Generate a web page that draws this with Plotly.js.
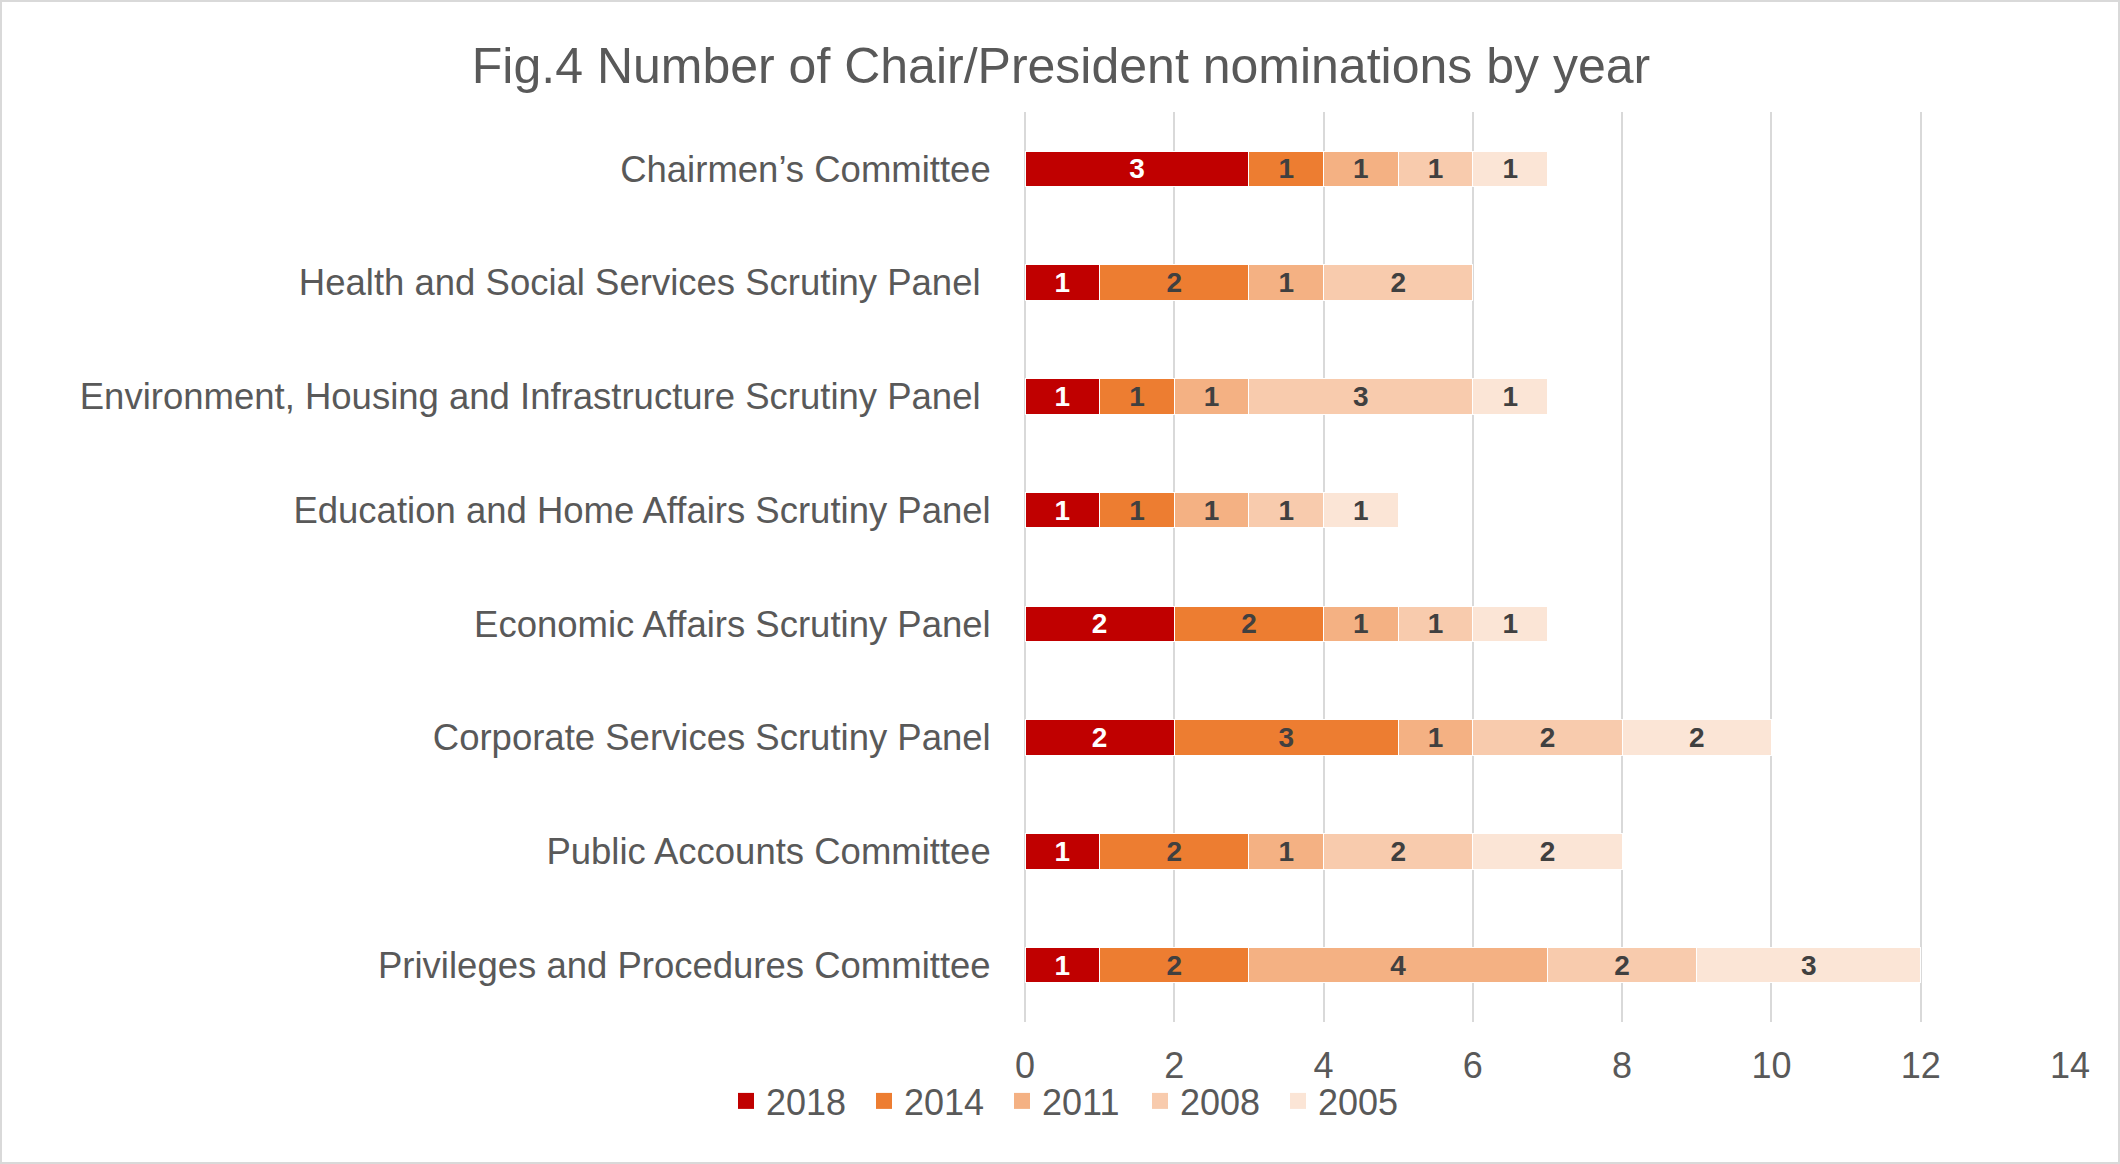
<!DOCTYPE html>
<html>
<head>
<meta charset="utf-8">
<script src="https://cdn.plot.ly/plotly-3.0.1.min.js"></script>
<style>
html,body{margin:0;padding:0;background:#fff;}
#wrap{width:2120px;height:1164px;box-sizing:border-box;border:2px solid #d9d9d9;position:relative;overflow:hidden;}
#chart{position:absolute;left:-2px;top:-2px;width:2120px;height:1164px;}
</style>
</head>
<body>
<div id="wrap"><div id="chart"></div></div>
<script>
const categories = [
  "Chairmen\u2019s Committee",
  "Health and Social Services Scrutiny Panel ",
  "Environment, Housing and Infrastructure Scrutiny Panel ",
  "Education and Home Affairs Scrutiny Panel",
  "Economic Affairs Scrutiny Panel",
  "Corporate Services Scrutiny Panel",
  "Public Accounts Committee",
  "Privileges and Procedures Committee"
];
const years = ["2018", "2014", "2011", "2008", "2005"];
const v2018 = [3, 1, 1, 1, 2, 2, 1, 1];
const v2014 = [1, 2, 1, 1, 2, 3, 2, 2];
const v2011 = [1, 1, 1, 1, 1, 1, 1, 4];
const v2008 = [1, 2, 3, 1, 1, 2, 2, 2];
const v2005 = [1, 0, 1, 1, 1, 2, 2, 3];
const xTicks = [0, 2, 4, 6, 8, 10, 12, 14];

const series = [v2018, v2014, v2011, v2008, v2005];
const colors = ["#C00000", "#ED7D31", "#F4B183", "#F8CBAD", "#FBE5D6"];
const labelColors = ["#ffffff", "#404040", "#404040", "#404040", "#404040"];
const FONT = "Liberation Sans, Arial, sans-serif";

const traces = series.map((vals, i) => ({
  type: "bar",
  orientation: "h",
  name: years[i],
  y: categories,
  x: vals,
  text: vals.map(v => v ? String(v) : ""),
  textposition: "inside",
  insidetextanchor: "middle",
  textangle: 0,
  constraintext: "none",
  textfont: {family: FONT, size: 28, color: labelColors[i], weight: "bold"},
  marker: {color: colors[i], line: {color: "#ffffff", width: 1}},
  showlegend: false,
  legendgroup: years[i],
  hoverinfo: "x+y+name"
}));

// legend entries with larger square symbols
const legendTraces = years.map((yr, i) => ({
  type: "scatter",
  mode: "markers",
  name: yr,
  x: [null], y: [null],
  marker: {symbol: "square", size: 18, color: colors[i]},
  legendgroup: yr,
  showlegend: true,
  hoverinfo: "skip"
}));

const layout = {
  width: 2120, height: 1164,
  paper_bgcolor: "#ffffff", plot_bgcolor: "#ffffff",
  barmode: "stack",
  bargap: 0.69,
  margin: {l: 1025, r: 50, t: 112, b: 142},
  title: {
    text: "Fig.4 Number of Chair/President nominations by year",
    font: {family: FONT, size: 50, color: "#595959"},
    x: 1061 / 2120, xref: "container", xanchor: "center",
    y: 1 - 65/1164, yref: "container", yanchor: "middle"
  },
  xaxis: {
    range: [0, 14], tickvals: xTicks, ticktext: xTicks.map(String),
    showgrid: true, gridcolor: "#d9d9d9", gridwidth: 2,
    zeroline: true, zerolinecolor: "#d9d9d9", zerolinewidth: 2,
    showline: false,
    ticks: "outside", ticklen: 12, tickcolor: "rgba(0,0,0,0)",
    tickfont: {family: FONT, size: 36, color: "#595959"},
    fixedrange: true
  },
  yaxis: {
    type: "category",
    autorange: "reversed",
    showgrid: false, zeroline: false, showline: false,
    ticks: "outside", ticklen: 26, tickcolor: "rgba(0,0,0,0)",
    tickfont: {family: FONT, size: 36.5, color: "#595959"},
    fixedrange: true
  },
  legend: {
    orientation: "h",
    traceorder: "normal",
    entrywidth: 93, entrywidthmode: "pixels",
    x: (726 - 1025) / (2120 - 1025 - 50), xanchor: "left",
    y: (1022 - 1101) / (1164 - 112 - 142), yanchor: "middle",
    font: {family: FONT, size: 36, color: "#595959"},
    itemwidth: 30,
    bgcolor: "rgba(0,0,0,0)"
  },
  showlegend: true
};

Plotly.newPlot("chart", traces.concat(legendTraces), layout, {displayModeBar: false, staticPlot: true});
</script>
</body>
</html>
